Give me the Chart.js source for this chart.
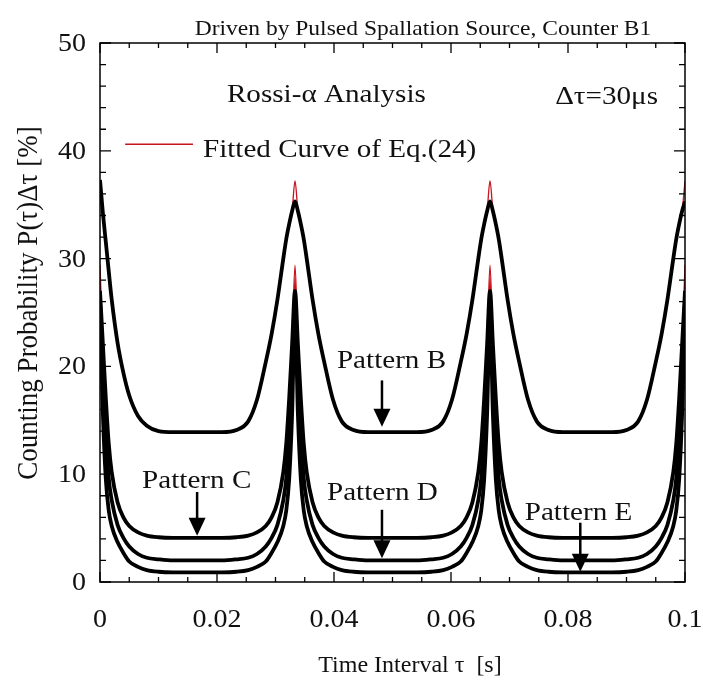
<!DOCTYPE html>
<html>
<head>
<meta charset="utf-8">
<script src="https://cdn.jsdelivr.net/npm/chart.js@4.4.1/dist/chart.umd.min.js"></script>
<style>
  html, body { margin: 0; padding: 0; background: #fff; }
  #wrap { width: 703px; height: 685px; }
</style>
</head>
<body>
<div id="wrap"><canvas id="chart"></canvas></div>
<script>
// pulse period of the source (30 Hz), s
const period = 1 / 30;
// time offset from each pulse peak, s (one half period, mirrored on the other side)
const offsets  = [0, 0.0005, 0.001, 0.0015, 0.002, 0.003, 0.004, 0.005, 0.0065, 0.008, 0.010, 0.0125, 0.01667];
const patternB = [35.3, 34.4, 33.2, 31.8, 30.0, 26.2, 23.0, 20.4, 16.9, 14.9, 14.1, 13.9, 13.9];
const patternC = [27.0, 22.0, 17.0, 12.8, 10.2, 7.4, 6.0, 5.2, 4.6, 4.3, 4.15, 4.1, 4.1];
const patternD = [26.0, 19.5, 13.8, 9.6, 7.6, 5.3, 4.1, 3.3, 2.6, 2.25, 2.1, 2.0, 2.0];
const patternE = [25.0, 15.5, 9.5, 6.6, 5.2, 3.7, 2.7, 1.9, 1.4, 1.1, 0.95, 0.9, 0.9];
// pattern B right after tau = 0 falls faster than at the later pulses
const patternBStart = [37.3, 34.2, 31.5, 28.8, 26.2, 22.2, 19.4, 17.3, 15.4, 14.5, 14.0, 13.9, 13.9];
// tops of the red fitted curves at the pulse peaks (B, C, D, E)
const fitPeaks = [37.2, 29.4, 28.2, 27.2];

const xTicks = [0, 0.02, 0.04, 0.06, 0.08, 0.1];
const xTickLabels = ['0', '0.02', '0.04', '0.06', '0.08', '0.1'];
const yTicks = [0, 10, 20, 30, 40, 50];
const yTickLabels = ['0', '10', '20', '30', '40', '50'];

// repeat the read profile over the three periods shown
function tile(profile, top, start) {
  const pts = [];
  for (let k = 0; k < 3; k++) {
    const t0 = k * period;
    const lead = (k === 0 && start) ? start : profile;
    pts.push({ x: t0, y: k === 0 && start ? Math.max(top, start[0]) : top });
    for (let i = 1; i < offsets.length; i++) pts.push({ x: t0 + offsets[i], y: lead[i] });
    for (let i = offsets.length - 2; i >= 1; i--) pts.push({ x: t0 + period - offsets[i], y: profile[i] });
  }
  pts.push({ x: 3 * period, y: top });
  return pts;
}

const patterns = [patternB, patternC, patternD, patternE];
const datasets = [];
patterns.forEach((p, i) => {
  const start = i === 0 ? patternBStart : null;
  datasets.push({
    label: 'fit', data: tile(p, fitPeaks[i], start), borderColor: '#c8141e', borderWidth: 1.3,
    pointRadius: 0, fill: false, cubicInterpolationMode: 'monotone', order: 2
  });
  datasets.push({
    label: 'data', data: tile(p, p[0], start), borderColor: '#000', borderWidth: 3.8,
    pointRadius: 0, fill: false, cubicInterpolationMode: 'monotone', order: 1
  });
});

const SERIF = '"Liberation Serif", "Times New Roman", serif';
const SX = 1.12; // picture is a little stretched sideways

function text(ctx, s, x, y, size, align, sx) {
  ctx.save();
  ctx.translate(x, y);
  ctx.scale(sx || SX, 1);
  ctx.font = size + 'px ' + SERIF;
  ctx.textAlign = align || 'left';
  ctx.textBaseline = 'alphabetic';
  ctx.fillStyle = '#111';
  ctx.fillText(s, 0, 0);
  ctx.restore();
}

function arrow(ctx, x, yTop, yTip) {
  ctx.save();
  ctx.strokeStyle = '#000';
  ctx.fillStyle = '#000';
  ctx.lineWidth = 2.5;
  ctx.beginPath();
  ctx.moveTo(x, yTop);
  ctx.lineTo(x, yTip - 16);
  ctx.stroke();
  ctx.beginPath();
  ctx.moveTo(x - 8.5, yTip - 18);
  ctx.lineTo(x + 8.5, yTip - 18);
  ctx.lineTo(x, yTip);
  ctx.closePath();
  ctx.fill();
  ctx.restore();
}

const decor = {
  id: 'decor',
  afterDatasetsDraw(chart) {
    const ctx = chart.ctx;
    const xs = chart.scales.x, ys = chart.scales.y;
    const a = chart.chartArea;
    const px = v => xs.getPixelForValue(v);
    const py = v => ys.getPixelForValue(v);

    // frame
    ctx.save();
    ctx.strokeStyle = '#000';
    ctx.lineWidth = 1.5;
    ctx.strokeRect(a.left, a.top, a.right - a.left, a.bottom - a.top);

    // inward ticks on all four sides
    ctx.lineWidth = 1.3;
    ctx.beginPath();
    for (let v = 0; v <= 0.1 + 1e-9; v += 0.005) {
      const major = Math.abs(v / 0.02 - Math.round(v / 0.02)) < 1e-6;
      const len = major ? 10 : 5;
      const x = px(v);
      ctx.moveTo(x, a.bottom); ctx.lineTo(x, a.bottom - len);
      ctx.moveTo(x, a.top); ctx.lineTo(x, a.top + len);
    }
    for (let v = 0; v <= 50; v += 2) {
      const len = v % 10 === 0 ? 11 : 6;
      const y = py(v);
      ctx.moveTo(a.left, y); ctx.lineTo(a.left + len, y);
      ctx.moveTo(a.right, y); ctx.lineTo(a.right - len, y);
    }
    ctx.stroke();
    ctx.restore();

    // tick labels
    xTicks.forEach((v, i) => text(ctx, xTickLabels[i], px(v), a.bottom + 45, 25, 'center'));
    yTicks.forEach((v, i) => text(ctx, yTickLabels[i], a.left - 14, py(v) + 8, 25, 'right'));

    // axis titles
    text(ctx, 'Time Interval \u03c4  [s]', 410, 672, 24, 'center', 1.0);
    ctx.save();
    ctx.translate(37, 303);
    ctx.rotate(-Math.PI / 2);
    ctx.scale(1, SX);
    ctx.font = '27px ' + SERIF;
    ctx.textAlign = 'center';
    ctx.textBaseline = 'alphabetic';
    ctx.fillStyle = '#111';
    ctx.fillText('Counting Probability P(\u03c4)\u0394\u03c4 [%]', 0, 0);
    ctx.restore();

    // header and notes
    text(ctx, 'Driven by Pulsed Spallation Source, Counter B1', 423, 35, 21, 'center');
    text(ctx, 'Rossi-\u03b1 Analysis', px(0.0217), py(44.5), 26);
    text(ctx, '\u0394\u03c4=30\u03bcs', px(0.0778), py(44.3), 26);

    // legend
    ctx.save();
    ctx.strokeStyle = '#c8141e';
    ctx.lineWidth = 1.5;
    ctx.beginPath();
    ctx.moveTo(px(0.0043), py(40.6));
    ctx.lineTo(px(0.0159), py(40.6));
    ctx.stroke();
    ctx.restore();
    text(ctx, 'Fitted Curve of Eq.(24)', px(0.0176), py(39.4), 26);

    // pattern labels with arrows
    text(ctx, 'Pattern B', px(0.0405), py(19.85), 26);
    arrow(ctx, px(0.0482), py(18.7), py(14.4));
    text(ctx, 'Pattern C', px(0.0072), py(8.72), 26);
    arrow(ctx, px(0.0166), py(8.35), py(4.3));
    text(ctx, 'Pattern D', px(0.0388), py(7.6), 26);
    arrow(ctx, px(0.0482), py(6.7), py(2.2));
    text(ctx, 'Pattern E', px(0.0726), py(5.75), 26);
    arrow(ctx, px(0.0821), py(5.5), py(0.95));
  }
};

new Chart(document.getElementById('chart'), {
  type: 'line',
  data: { datasets },
  options: {
    responsive: true, maintainAspectRatio: false, animation: false,
    layout: { padding: { left: 100, right: 18, top: 43, bottom: 103 } },
    plugins: { legend: { display: false }, tooltip: { enabled: false } },
    scales: {
      x: { type: 'linear', min: 0, max: 0.1, display: false },
      y: { min: 0, max: 50, display: false }
    }
  },
  plugins: [decor]
});
</script>
</body>
</html>
